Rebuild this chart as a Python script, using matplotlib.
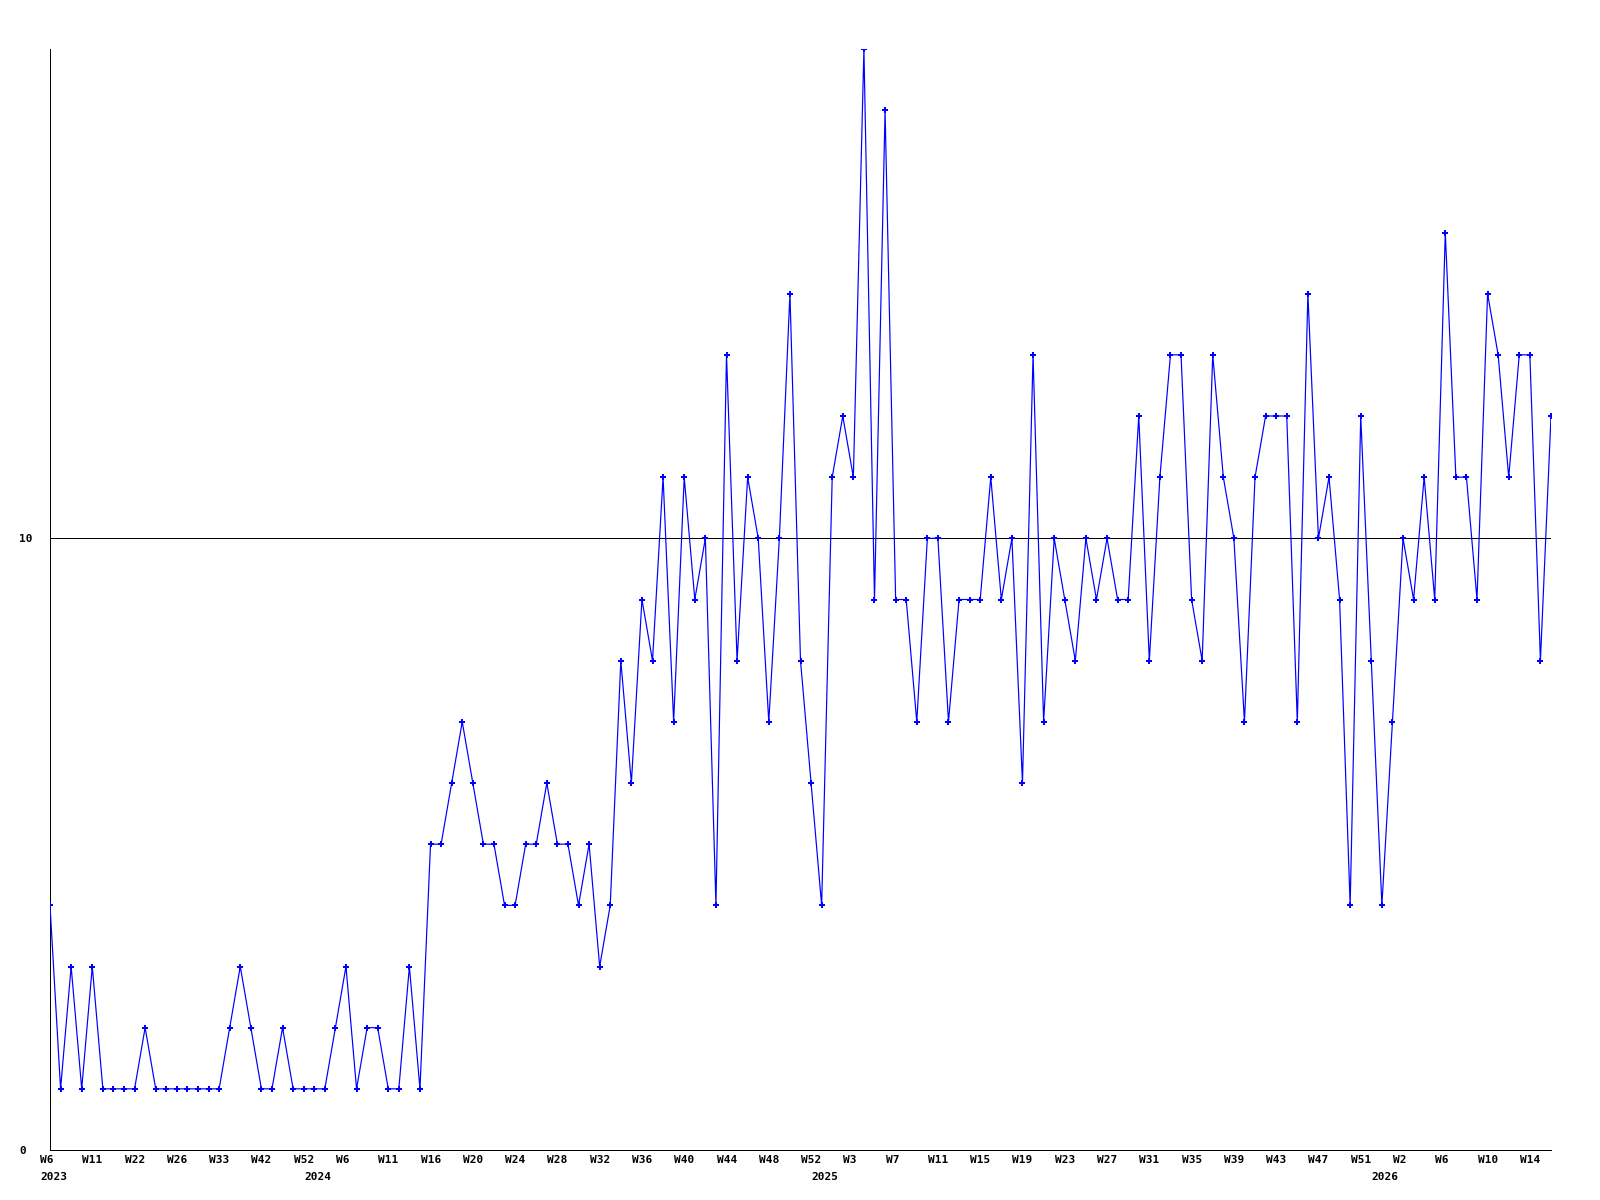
import matplotlib
matplotlib.use("Agg")
import matplotlib.pyplot as plt
import matplotlib.transforms as mtransforms
import numpy as np

# ---- data ----
values = [4, 1, 3, 1, 3, 1, 1, 1, 1, 2,
          1, 1, 1, 1, 1, 1, 1, 2, 3, 2,
          1, 1, 2, 1, 1, 1, 1, 2, 3, 1,
          2, 2, 1, 1, 3, 1, 5, 5, 6, 7,
          6, 5, 5, 4, 4, 5, 5, 6, 5, 5,
          4, 5, 3, 4, 8, 6, 9, 8, 11, 7,
          11, 9, 10, 4, 13, 8, 11, 10, 7, 10,
          14, 8, 6, 4, 11, 12, 11, 18, 9, 17,
          9, 9, 7, 10, 10, 7, 9, 9, 9, 11,
          9, 10, 6, 13, 7, 10, 9, 8, 10, 9,
          10, 9, 9, 12, 8, 11, 13, 13, 9, 8,
          13, 11, 10, 7, 11, 12, 12, 12, 7, 14,
          10, 11, 9, 4, 12, 8, 4, 7, 10, 9,
          11, 9, 15, 11, 11, 9, 14, 13, 11, 13,
          13, 8, 12]

week_labels = ["W6", "W11", "W22", "W26", "W33", "W42", "W52", "W6", "W11",
               "W16", "W20", "W24", "W28", "W32", "W36", "W40", "W44", "W48",
               "W52", "W3", "W7", "W11", "W15", "W19", "W23", "W27", "W31",
               "W35", "W39", "W43", "W47", "W51", "W2", "W6", "W10", "W14"]
week_label_idx = list(range(0, 140 + 1, 4))

year_labels = ["2023", "2024", "2025", "2026"]
year_label_idx = [0, 25, 73, 126]

y_ticks = [0, 10]

# ---- figure ----
W, H, DPI = 1600, 1200, 100
PX = 72 / DPI  # one pixel in points
fig = plt.figure(figsize=(W / DPI, H / DPI), dpi=DPI, facecolor="white")
left, right, top, bottom = 50, 1551, 49, 1150
ax = fig.add_axes([left / W, 1 - bottom / H, (right - left) / W, (bottom - top) / H])

x = np.arange(len(values))
font = dict(family="DejaVu Sans Mono", weight="bold", size=8)

ax.axhline(10, color="black", linewidth=1.0 * PX, zorder=1)
ax.plot(x, values, color="#0000ff", linewidth=1.2 * PX, marker="P",
        markersize=4.5, markeredgewidth=0, zorder=3)

ax.set_xlim(0, len(values) - 1)
ax.set_ylim(0, 18)

for s in ["top", "right"]:
    ax.spines[s].set_visible(False)
for s in ["left", "bottom"]:
    ax.spines[s].set_linewidth(1.0 * PX)
    ax.spines[s].set_color("black")

ax.set_yticks(y_ticks)
ax.set_yticklabels([str(v) for v in y_ticks], fontdict=font, ha="left")
ax.tick_params(axis="y", length=0, pad=31 * PX)

ax.set_xticks(week_label_idx)
ax.set_xticklabels(week_labels, fontdict=font, ha="left")
ax.tick_params(axis="x", length=0, pad=5 * PX)
offset = mtransforms.ScaledTranslation(-10 / DPI, 0, fig.dpi_scale_trans)
for lab in ax.get_xticklabels():
    lab.set_transform(lab.get_transform() + offset)

for lbl, i in zip(year_labels, year_label_idx):
    ax.annotate(lbl, xy=(i, 0), xycoords=("data", "axes fraction"),
                xytext=(-10, -27), textcoords="offset pixels",
                ha="left", va="center", fontfamily=font["family"],
                fontweight=font["weight"], fontsize=font["size"])

fig.savefig("out.png", dpi=DPI, facecolor="white")
